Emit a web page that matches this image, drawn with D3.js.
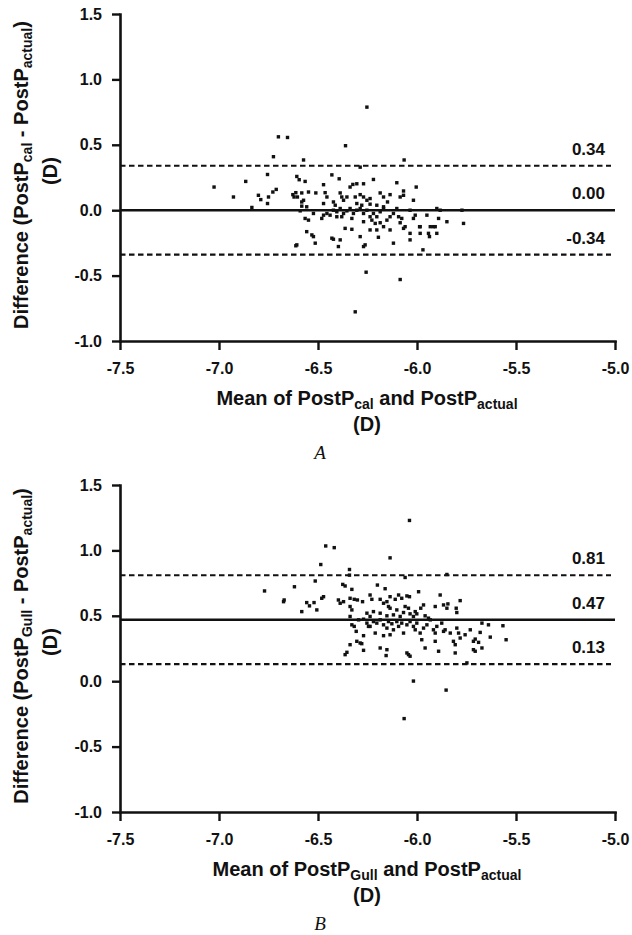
<!DOCTYPE html>
<html>
<head>
<meta charset="utf-8">
<script src="https://cdn.jsdelivr.net/npm/d3@7"></script>
<style>
  body { margin: 0; background: #fff; }
  svg { display: block; }
</style>
</head>
<body>
<div id="chart"></div>
<script>
// Datos (media, diferencia) en dioptrías
const xTicks = [-7.5, -7.0, -6.5, -6.0, -5.5, -5.0];
const yTicks = [-1.0, -0.5, 0.0, 0.5, 1.0, 1.5];

// Panel A: PostP_cal vs PostP_actual
const limitsA = [0.34, 0.00, -0.34];
const limitLabelsA = ["0.34", "0.00", "-0.34"];
const pointsA = [
  [-6.253, 0.788], [-6.700, 0.561], [-6.654, 0.556], [-6.361, 0.493], [-6.725, 0.409], [-6.573, 0.384],
  [-6.065, 0.384], [-6.287, 0.329],
  [-7.025, 0.177], [-6.927, 0.101], [-6.865, 0.220], [-6.834, 0.021], [-6.755, 0.273], [-6.801, 0.114],
  [-6.789, 0.081], [-6.750, 0.101], [-6.755, 0.051], [-6.711, 0.159], [-6.728, 0.139],
  [-6.607, 0.258], [-6.595, 0.233], [-6.565, 0.220], [-6.612, 0.134], [-6.627, 0.119], [-6.621, 0.101],
  [-6.582, 0.132], [-6.548, 0.139], [-6.511, 0.132], [-6.573, 0.076], [-6.582, 0.063], [-6.604, 0.101],
  [-6.472, 0.195], [-6.430, 0.270], [-6.393, 0.240], [-6.464, 0.134], [-6.455, 0.101], [-6.472, 0.051],
  [-6.422, 0.063], [-6.413, 0.038], [-6.388, 0.132], [-6.380, 0.101], [-6.371, 0.076], [-6.354, 0.101],
  [-6.338, 0.177], [-6.324, 0.197], [-6.304, 0.202], [-6.270, 0.202], [-6.287, 0.119], [-6.270, 0.101],
  [-6.253, 0.076], [-6.237, 0.089], [-6.220, 0.235], [-6.186, 0.132], [-6.169, 0.101], [-6.149, 0.063],
  [-6.136, 0.119], [-6.102, 0.210], [-6.068, 0.147], [-6.085, 0.101], [-6.018, 0.076], [-6.004, 0.177],
  [-6.068, 0.114], [-6.312, 0.101], [-6.304, 0.051], [-6.279, 0.038], [-6.237, 0.046], [-6.203, 0.038],
  [-6.169, 0.026], [-6.582, 0.031], [-6.557, 0.026],
  [-6.590, -0.005], [-6.565, -0.063], [-6.548, -0.076], [-6.523, -0.025], [-6.481, -0.063], [-6.472, -0.038],
  [-6.455, -0.025], [-6.439, -0.038], [-6.422, 0.000], [-6.405, -0.012], [-6.388, 0.013], [-6.380, -0.050],
  [-6.371, -0.025], [-6.354, -0.005], [-6.338, 0.013], [-6.329, -0.063], [-6.321, -0.025], [-6.304, 0.000],
  [-6.287, 0.013], [-6.270, -0.025], [-6.253, 0.000], [-6.237, -0.050], [-6.228, -0.076], [-6.220, -0.025],
  [-6.203, -0.050], [-6.186, -0.012], [-6.169, 0.013], [-6.152, -0.076], [-6.136, -0.050], [-6.119, -0.025],
  [-6.102, 0.013], [-6.093, -0.050], [-6.077, -0.063], [-6.060, -0.126], [-6.035, 0.000], [-6.018, -0.063],
  [-6.009, -0.038], [-5.984, -0.126], [-5.950, -0.038], [-5.933, -0.126], [-5.917, -0.126], [-5.900, 0.013],
  [-5.891, -0.063], [-5.849, -0.088], [-5.773, 0.000], [-5.765, -0.101], [-5.883, 0.000], [-6.405, -0.050],
  [-6.270, -0.088], [-6.211, -0.101], [-6.186, -0.096],
  [-6.557, -0.164], [-6.531, -0.189], [-6.523, -0.202], [-6.514, -0.252], [-6.607, -0.265], [-6.612, -0.272],
  [-6.430, -0.214], [-6.422, -0.222], [-6.388, -0.227], [-6.397, -0.278], [-6.363, -0.139], [-6.329, -0.146],
  [-6.287, -0.202], [-6.270, -0.278], [-6.262, -0.265], [-6.237, -0.151], [-6.203, -0.151], [-6.195, -0.207],
  [-6.169, -0.126], [-6.136, -0.151], [-6.119, -0.252], [-6.068, -0.139], [-6.035, -0.177], [-6.035, -0.227],
  [-5.987, -0.126], [-5.984, -0.177], [-5.942, -0.177], [-5.937, -0.202], [-5.900, -0.177], [-5.970, -0.303],
  [-5.908, -0.126], [-6.085, -0.096],
  [-6.257, -0.474], [-6.085, -0.530], [-6.312, -0.777]
];

// Panel B: PostP_Gull vs PostP_actual
const limitsB = [0.81, 0.47, 0.13];
const limitLabelsB = ["0.81", "0.47", "0.13"];
const pointsB = [
  [-6.038, 1.229], [-6.461, 1.034], [-6.418, 1.021], [-6.136, 0.943], [-6.486, 0.892], [-6.341, 0.854],
  [-6.514, 0.766], [-6.619, 0.722], [-6.770, 0.690],
  [-6.341, 0.811], [-6.060, 0.793], [-5.849, 0.816],
  [-6.375, 0.740], [-6.363, 0.728], [-6.329, 0.702], [-6.200, 0.735], [-6.161, 0.707], [-5.992, 0.684],
  [-5.883, 0.659], [-6.674, 0.608], [-6.671, 0.621], [-6.557, 0.601], [-6.543, 0.576], [-6.520, 0.601],
  [-6.506, 0.545], [-6.582, 0.532], [-6.472, 0.646], [-6.481, 0.634], [-6.397, 0.621], [-6.388, 0.596],
  [-6.371, 0.608], [-6.338, 0.634], [-6.317, 0.626], [-6.301, 0.621], [-6.275, 0.608], [-6.338, 0.571],
  [-6.329, 0.545], [-6.237, 0.659], [-6.228, 0.626], [-6.186, 0.626], [-6.169, 0.596], [-6.152, 0.608],
  [-6.144, 0.571], [-6.136, 0.646], [-6.110, 0.626], [-6.093, 0.659], [-6.077, 0.634], [-6.051, 0.652],
  [-6.038, 0.646], [-6.136, 0.558], [-6.102, 0.545], [-6.060, 0.571], [-6.043, 0.558], [-6.009, 0.532],
  [-6.001, 0.515], [-5.981, 0.558], [-5.967, 0.583], [-5.908, 0.571], [-5.866, 0.583], [-5.849, 0.558],
  [-5.802, 0.558], [-5.799, 0.525], [-5.782, 0.616], [-5.844, 0.591], [-6.253, 0.520], [-6.237, 0.495],
  [-6.220, 0.532], [-6.186, 0.520], [-6.152, 0.500], [-6.119, 0.507], [-6.085, 0.495], [-6.068, 0.525],
  [-6.035, 0.515], [-6.018, 0.495], [-5.959, 0.500], [-5.942, 0.482], [-6.338, 0.495],
  [-6.329, 0.431], [-6.317, 0.419], [-6.307, 0.381], [-6.295, 0.469], [-6.270, 0.474], [-6.253, 0.444],
  [-6.245, 0.419], [-6.220, 0.456], [-6.203, 0.444], [-6.186, 0.469], [-6.169, 0.431], [-6.152, 0.406],
  [-6.144, 0.456], [-6.127, 0.439], [-6.119, 0.393], [-6.102, 0.456], [-6.093, 0.419], [-6.077, 0.444],
  [-6.068, 0.368], [-6.051, 0.431], [-6.035, 0.456], [-6.018, 0.419], [-6.009, 0.393], [-6.001, 0.444],
  [-5.984, 0.368], [-5.967, 0.406], [-5.950, 0.431], [-5.933, 0.469], [-5.917, 0.393], [-5.908, 0.368],
  [-5.900, 0.419], [-5.875, 0.444], [-5.858, 0.393], [-5.832, 0.368], [-5.799, 0.406], [-5.790, 0.368],
  [-5.757, 0.355], [-5.731, 0.393], [-5.706, 0.322], [-5.681, 0.373], [-5.672, 0.444], [-5.639, 0.431],
  [-5.630, 0.337], [-5.566, 0.424], [-5.550, 0.317], [-6.136, 0.355], [-6.169, 0.348], [-6.237, 0.419],
  [-6.211, 0.368], [-6.270, 0.348], [-6.304, 0.305], [-6.279, 0.287], [-5.976, 0.317], [-5.908, 0.305],
  [-5.866, 0.381], [-5.816, 0.305], [-5.782, 0.330], [-5.689, 0.297], [-5.715, 0.305],
  [-6.363, 0.203], [-6.354, 0.221], [-6.270, 0.236], [-6.186, 0.254], [-6.152, 0.241], [-6.156, 0.196],
  [-6.051, 0.216], [-6.035, 0.191], [-6.043, 0.203], [-5.959, 0.254], [-5.891, 0.229], [-5.807, 0.216],
  [-5.807, 0.279], [-5.715, 0.241], [-5.706, 0.229], [-5.672, 0.254], [-5.748, 0.140], [-6.338, 0.279],
  [-6.287, 0.292],
  [-6.018, 0.001], [-5.853, -0.068], [-6.065, -0.286]
];

const W = 632, H = 935;
const svg = d3.select("#chart").append("svg")
  .attr("width", W).attr("height", H)
  .style("background", "#fff");

const sans = "'Liberation Sans', Arial, Helvetica, sans-serif";
const ink = "#111";

// Dibuja un panel Bland-Altman
function drawPanel(opts) {
  const top = opts.top;
  const x = d3.scaleLinear().domain([-7.5, -5.0]).range([120, 615]);
  const y = d3.scaleLinear().domain([-1.0, 1.5]).range([top + 327, top]);
  const g = svg.append("g");

  // líneas de media y límites de acuerdo
  opts.limits.forEach((v, i) => {
    const mean = i === 1;
    g.append("line")
      .attr("x1", x(-7.5)).attr("x2", mean ? x(-5.0) : x(-5.0) - 4)
      .attr("y1", y(v)).attr("y2", y(v))
      .attr("stroke", ink)
      .attr("stroke-width", mean ? 2.4 : 2.2)
      .attr("stroke-dasharray", mean ? null : "5.5 3.5");
    g.append("text")
      .attr("x", 605).attr("y", y(v) - 11)
      .attr("text-anchor", "end")
      .attr("font-family", sans).attr("font-weight", "bold")
      .attr("font-size", 17).attr("fill", ink)
      .text(opts.limitLabels[i]);
  });

  // puntos
  g.selectAll("rect.pt").data(opts.points).enter().append("rect")
    .attr("class", "pt")
    .attr("x", d => x(d[0]) - 1.7).attr("y", d => y(d[1]) - 1.7)
    .attr("width", 3.4).attr("height", 3.4)
    .attr("fill", ink);

  // ejes
  const fmt = d => d.toFixed(1);
  const ax = g.append("g").attr("transform", `translate(0,${y(-1.0)})`)
    .call(d3.axisBottom(x).tickValues(xTicks).tickSize(9).tickSizeOuter(0).tickPadding(13).tickFormat(fmt));
  const ay = g.append("g").attr("transform", `translate(${x(-7.5)},0)`)
    .call(d3.axisLeft(y).tickValues(yTicks).tickSize(8).tickSizeOuter(0).tickPadding(10).tickFormat(fmt));
  [ax, ay].forEach(a => {
    a.select(".domain").attr("stroke", ink).attr("stroke-width", 2.6).attr("stroke-linecap", "square");
    a.selectAll(".tick line").attr("stroke", ink).attr("stroke-width", 2.4);
    a.selectAll(".tick text")
      .attr("font-family", sans).attr("font-weight", "bold")
      .attr("font-size", 16).attr("fill", ink);
  });

  // título del eje X
  const xt = g.append("text")
    .attr("x", 367).attr("y", top + 391)
    .attr("text-anchor", "middle")
    .attr("font-family", sans).attr("font-weight", "bold")
    .attr("font-size", 20).attr("fill", ink);
  xt.append("tspan").text("Mean of PostP");
  xt.append("tspan").attr("font-size", 14).attr("dy", 4).text(opts.sub);
  xt.append("tspan").attr("dy", -4).text(" and PostP");
  xt.append("tspan").attr("font-size", 14).attr("dy", 4).text("actual");

  g.append("text")
    .attr("x", 367).attr("y", top + 417)
    .attr("text-anchor", "middle")
    .attr("font-family", sans).attr("font-weight", "bold")
    .attr("font-size", 20).attr("fill", ink)
    .text("(D)");

  g.append("text")
    .attr("x", 320).attr("y", top + 445)
    .attr("text-anchor", "middle")
    .attr("font-family", "'Liberation Serif', 'Times New Roman', serif")
    .attr("font-style", "italic")
    .attr("font-size", 19).attr("fill", ink)
    .text(opts.letter);

  // título del eje Y
  const cy = top + 161;
  const yt = g.append("text")
    .attr("transform", `translate(28,${cy}) rotate(-90)`)
    .attr("text-anchor", "middle")
    .attr("font-family", sans).attr("font-weight", "bold")
    .attr("font-size", 20).attr("fill", ink);
  yt.append("tspan").text("Difference (PostP");
  yt.append("tspan").attr("font-size", 14).attr("dy", 4).text(opts.sub);
  yt.append("tspan").attr("dy", -4).text(" - PostP");
  yt.append("tspan").attr("font-size", 14).attr("dy", 4).text("actual");
  yt.append("tspan").attr("dy", -4).text(")");

  g.append("text")
    .attr("transform", `translate(57,${cy - 4}) rotate(-90)`)
    .attr("text-anchor", "middle")
    .attr("font-family", sans).attr("font-weight", "bold")
    .attr("font-size", 20).attr("fill", ink)
    .text("(D)");
}

drawPanel({ top: 14, points: pointsA, limits: limitsA, limitLabels: limitLabelsA, sub: "cal", letter: "A" });
drawPanel({ top: 485, points: pointsB, limits: limitsB, limitLabels: limitLabelsB, sub: "Gull", letter: "B" });
</script>
</body>
</html>
